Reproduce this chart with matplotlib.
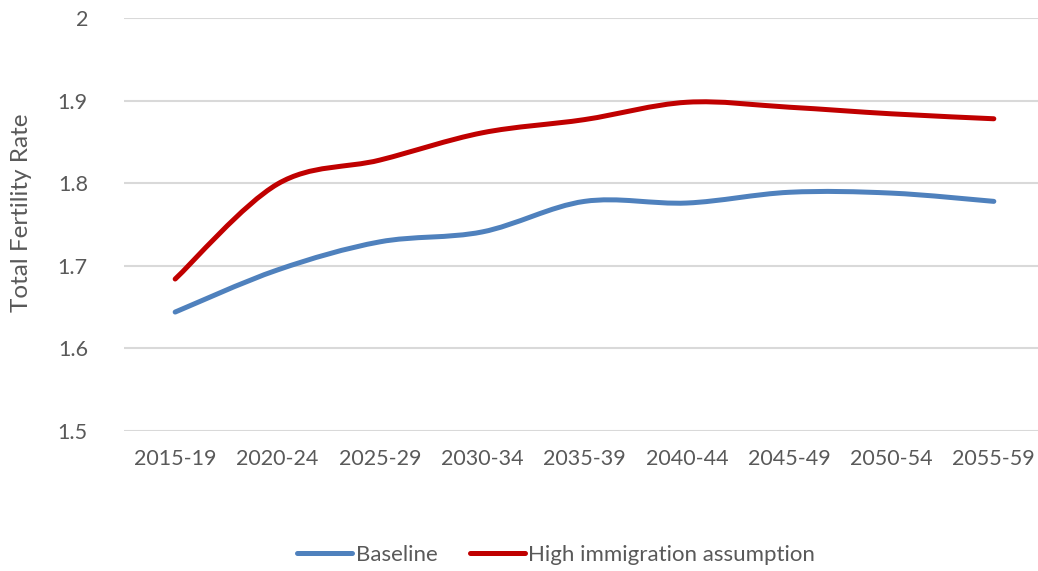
import matplotlib.pyplot as plt
from matplotlib.path import Path
from matplotlib.patches import PathPatch
from matplotlib.lines import Line2D

periods = ['2015-19', '2020-24', '2025-29', '2030-34', '2035-39',
           '2040-44', '2045-49', '2050-54', '2055-59']
baseline = [1.644, 1.695, 1.729, 1.741, 1.778, 1.776, 1.789, 1.788, 1.778]
high_immigration = [1.684, 1.799, 1.828, 1.861, 1.877, 1.898, 1.892, 1.884, 1.878]

BLUE = '#4F81BD'
RED = '#C00000'
GREY = '#595959'

plt.rcParams['font.family'] = ['Lato', 'DejaVu Sans']


def smooth_path(xs, ys):
    # catmull-rom style bezier, like excel's smoothed line
    pts = list(zip(xs, ys))
    n = len(pts)
    verts = [pts[0]]
    codes = [Path.MOVETO]
    for i in range(n - 1):
        p0 = pts[max(i - 1, 0)]
        p1 = pts[i]
        p2 = pts[i + 1]
        p3 = pts[min(i + 2, n - 1)]
        c1 = (p1[0] + (p2[0] - p0[0]) / 6, p1[1] + (p2[1] - p0[1]) / 6)
        c2 = (p2[0] - (p3[0] - p1[0]) / 6, p2[1] - (p3[1] - p1[1]) / 6)
        verts += [c1, c2, p2]
        codes += [Path.CURVE4] * 3
    return Path(verts, codes)


fig = plt.figure(figsize=(10.38, 5.71), dpi=100)
ax = fig.add_axes([124 / 1038, 140 / 571, 921 / 1038, 413 / 571])

x = list(range(len(periods)))
for ys, col in [(baseline, BLUE), (high_immigration, RED)]:
    ax.add_patch(PathPatch(smooth_path(x, ys), fill=False, edgecolor=col,
                           linewidth=3.6, capstyle='round', joinstyle='round', zorder=3))

ax.set_xlim(-0.5, 8.5)
ax.set_ylim(1.5, 2.0)
ax.set_yticks([1.5, 1.6, 1.7, 1.8, 1.9, 2.0])
ax.set_yticklabels(['1.5', '1.6', '1.7', '1.8', '1.9', '2'])
ax.set_xticks(x)
ax.set_xticklabels(periods)
ax.yaxis.grid(True, color='#D9D9D9', linewidth=1.5)
ax.set_axisbelow(True)
for s in ax.spines.values():
    s.set_visible(False)
ax.tick_params(axis='both', length=0, colors=GREY, labelsize=15.5)
ax.tick_params(axis='y', pad=26)
ax.tick_params(axis='x', pad=13)
fig.text(22 / 1038, 1 - 213 / 571, 'Total Fertility Rate', rotation=90,
         ha='center', va='center', color=GREY, fontsize=17.5)

handles = [Line2D([], [], color=BLUE, linewidth=3.6, solid_capstyle='round'),
           Line2D([], [], color=RED, linewidth=3.6, solid_capstyle='round')]
fig.legend(handles, ['Baseline', 'High immigration assumption'], loc='center',
           bbox_to_anchor=(556 / 1038, 1 - 555 / 571), ncol=2, frameon=False,
           fontsize=16, labelcolor=GREY, handlelength=2.5, handletextpad=0.15,
           columnspacing=1.45)

fig.savefig('out.png', dpi=100)
